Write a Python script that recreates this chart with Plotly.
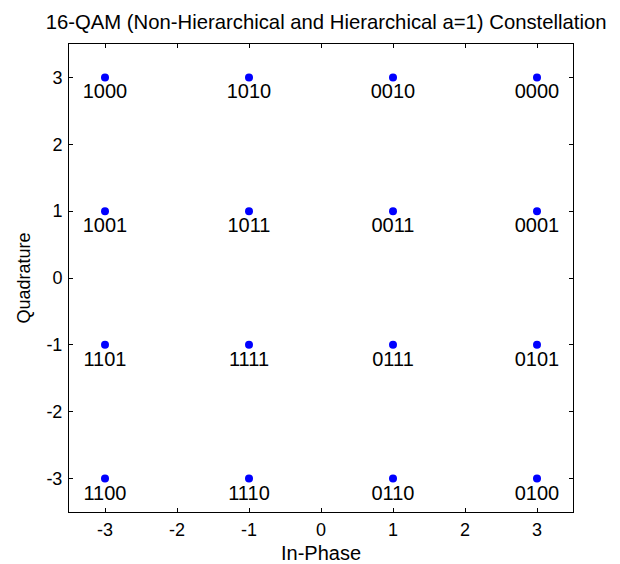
import plotly.graph_objects as go

in_phase = [-3, -1, 1, 3]
quadrature = [3, 1, -1, -3]
labels = [
    ["1000", "1010", "0010", "0000"],
    ["1001", "1011", "0011", "0001"],
    ["1101", "1111", "0111", "0101"],
    ["1100", "1110", "0110", "0100"],
]
tick_vals = [-3, -2, -1, 0, 1, 2, 3]
tick_text = ["-3", "-2", "-1", "0", "1", "2", "3"]

xs, ys, ts = [], [], []
for r, q in enumerate(quadrature):
    for c, i in enumerate(in_phase):
        xs.append(i)
        ys.append(q)
        ts.append(labels[r][c])

font = "Liberation Sans, Arial, sans-serif"
fig = go.Figure()
fig.add_trace(go.Scatter(
    x=xs, y=ys, mode="markers+text", text=ts,
    textposition="bottom center",
    textfont=dict(family=font, size=20, color="black"),
    marker=dict(color="#0000FF", size=8),
    showlegend=False, hoverinfo="skip",
))

axis_common = dict(
    showline=True, linecolor="black", linewidth=1, mirror="ticks",
    ticks="inside", ticklen=4, tickcolor="black", tickwidth=1,
    showgrid=False, zeroline=False, automargin=False,
    tickfont=dict(family=font, size=18, color="black"),
    tickvals=tick_vals, ticktext=tick_text,
)
fig.update_xaxes(range=[-3.5, 3.5], ticklabelstandoff=1,
                 title=dict(text="In-Phase", font=dict(family=font, size=20, color="black"), standoff=11),
                 **axis_common)
fig.update_yaxes(range=[-3.5, 3.5], ticklabelstandoff=2,
                 title=dict(text="Quadrature", font=dict(family=font, size=18, color="black"), standoff=11),
                 **axis_common)
fig.update_layout(
    width=620, height=564,
    margin=dict(l=69, r=47, t=44, b=52, autoexpand=False),
    paper_bgcolor="white", plot_bgcolor="white",
    title=dict(text="16-QAM (Non-Hierarchical and Hierarchical a=1) Constellation",
               x=0.526, xanchor="center", y=0.962, yanchor="middle",
               font=dict(family=font, size=20.3, color="black")),
)
fig.write_html("out.html")
